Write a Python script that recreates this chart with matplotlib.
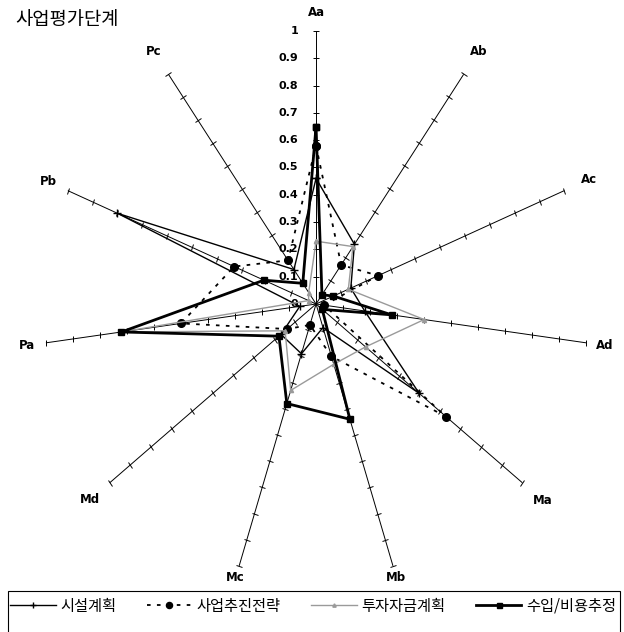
import numpy as np
import matplotlib
matplotlib.use("Agg")
import matplotlib.pyplot as plt
from matplotlib.markers import MarkerStyle
from matplotlib.transforms import Affine2D
from matplotlib.patches import Rectangle

plt.rcParams['font.family'] = ['Noto Sans CJK KR', 'DejaVu Sans']

# -------------------- data --------------------
axis_names = ['Aa', 'Ab', 'Ac', 'Ad', 'Ma', 'Mb', 'Mc', 'Md', 'Pa', 'Pb', 'Pc']
facility = [0.46, 0.26, 0.14, 0.18, 0.50, 0.09, 0.19, 0.17, 0.06, 0.80, 0.15]   # 시설계획
strategy = [0.58, 0.17, 0.25, 0.03, 0.63, 0.20, 0.08, 0.14, 0.50, 0.33, 0.19]   # 사업추진전략
funding  = [0.23, 0.25, 0.13, 0.40, 0.24, 0.23, 0.33, 0.15, 0.72, 0.03, 0.05]   # 투자자금계획
income   = [0.65, 0.04, 0.07, 0.28, 0.03, 0.44, 0.38, 0.18, 0.72, 0.21, 0.09]   # 수입/비용추정
series_names = ['시설계획', '사업추진전략', '투자자금계획', '수입/비용추정']
tick_vals = [0, 0.1, 0.2, 0.3, 0.4, 0.5, 0.6, 0.7, 0.8, 0.9, 1]
title = '사업평가단계'

# distance of each axis name from the centre (1 = end of spoke)
label_r = [1.066, 1.10, 1.098, 1.067, 1.098, 1.045, 1.045, 1.096, 1.068, 1.078, 1.10]

n = len(axis_names)
theta = np.arange(n) * 2 * np.pi / n
theta_closed = np.append(theta, theta[0])

fig = plt.figure(figsize=(6.24, 6.32), dpi=100)
ax = fig.add_axes([0.069, 0.087, 0.875, 0.864], projection='polar')
ax.set_theta_offset(np.pi / 2)
ax.set_theta_direction(-1)
ax.set_ylim(0, 1)
ax.set_xticks([])
ax.set_yticks([])
ax.grid(False)
ax.spines['polar'].set_visible(False)

# spokes with small cross ticks
for k, th in enumerate(theta):
    ax.plot([th, th], [0, 1], color='black', lw=0.7, zorder=1)
    phi = 90 - k * 360 / n
    mk = MarkerStyle('_', transform=Affine2D().rotate_deg(phi + 90))
    ax.plot([th] * (len(tick_vals) - 1), tick_vals[1:], ls='none', marker=mk,
            color='black', ms=5, mew=0.7, zorder=1, clip_on=False)
    ax.text(th, label_r[k], axis_names[k], ha='center', va='center',
            fontsize=8.5, fontweight='bold', family='DejaVu Sans')

# value labels along the first spoke
for v in tick_vals:
    ax.annotate(f'{v:g}', xy=(0, v), xytext=(-18, 0), textcoords='offset pixels',
                ha='right', va='center', fontsize=8, fontweight='bold',
                family='DejaVu Sans')

styles = [
    dict(color='black', lw=1.0, ls='-', marker='+', ms=6, mew=1.0),
    dict(color='black', lw=1.3, ls=(0, (2, 3.5)), marker='o', ms=5.5),
    dict(color='#9a9a9a', lw=1.0, ls='-', marker='^', ms=3),
    dict(color='black', lw=2.0, ls='-', marker='s', ms=4.5),
]
data = [facility, strategy, funding, income]
handles = []
for vals, st, name in zip(data, styles, series_names):
    line, = ax.plot(theta_closed, np.append(vals, vals[0]), label=name,
                    zorder=3, clip_on=False, **st)
    handles.append(line)

fig.text(15 / 624, 1 - 19 / 632, title, fontsize=13.5, ha='left', va='center')

# legend: box runs off the bottom edge of the picture
leg = fig.legend(handles=handles, labels=series_names, loc='center left',
                 bbox_to_anchor=(10 / 624, 1 - 606 / 632, 606 / 624, 0.0),
                 mode='expand', ncol=4, frameon=False, fontsize=11,
                 handlelength=3.0, handletextpad=0.3, columnspacing=0.6,
                 numpoints=1, markerscale=0.8, borderaxespad=0, borderpad=0)
fig.add_artist(Rectangle((8 / 624, -0.02), 612 / 624, (632 - 591) / 632 + 0.02,
                         transform=fig.transFigure, fill=False,
                         edgecolor='black', lw=0.8))

fig.savefig('out.png', dpi=100)
